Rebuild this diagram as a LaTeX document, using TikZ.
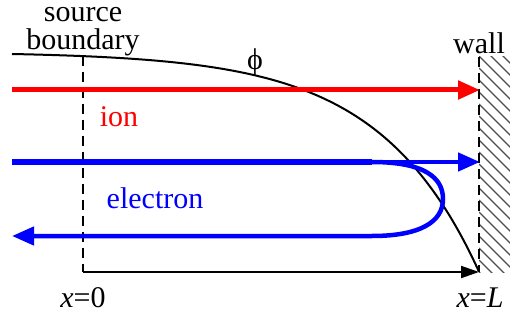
\documentclass[tikz,border=0pt]{standalone}
\usepackage{fontspec}
\setmainfont{LiberationSerif}[Extension=.ttf, UprightFont=*-Regular, ItalicFont=*-Italic, BoldFont=*-Bold]
\usetikzlibrary{arrows.meta}

\tikzset{
  boundary/.style={line width=2pt, dash pattern=on 10pt off 6pt},
  txt/.style={inner sep=0pt, anchor=base},
  ionpath/.style={red, line width=5pt, -{Triangle[length=22pt, width=18pt]}},
  elpath/.style={blue, line width=4.5pt},
  eltip/.style={-{Triangle[length=22pt, width=18pt]}},
}

\begin{document}
\begin{tikzpicture}[x=1pt, y=-1pt, every node/.style={font=\rmfamily\fontsize{30}{28}\selectfont}]
    \useasboundingbox (0,0) rectangle (510,320);

    % Source boundary and wall positions
    \coordinate (srcTop) at (83,56);
    \coordinate (srcBot) at (83,272);
    \coordinate (wallTop) at (479,57);
    \coordinate (wallBot) at (479,272);

    % Hatched wall
    \begin{scope}
        \clip (wallTop) rectangle (510,272);
        \foreach \i in {-40,-28,...,280}
            \draw[line width=1.3pt, black!70] (479,\i) -- ++(45,45);
    \end{scope}
    \draw[boundary] (wallTop) -- (wallBot);
    \node[txt] (wall) at (479,54) {wall};

    % Source boundary
    \draw[boundary] (srcTop) -- (srcBot);
    \node[inner sep=0pt, anchor=south, align=center] (src) at (83,56) {source\\boundary};

    % Axis from x=0 to x=L
    \draw[line width=2pt, -{Triangle[length=18pt, width=12pt]}] (srcBot) -- (wallBot);
    \node[txt] (x0) at (83,307) {\textit{x}=0};
    \node[txt] (xL) at (480,307) {\textit{x}=\textit{L}};

    % Potential phi
    \draw[line width=2pt] plot[domain=0:467, samples=120] ({12+\x},{54+2.06*(exp(\x/100)-1)});
    \node[txt] (phi) at (255,70) {ϕ};

    % Ion
    \coordinate (ionL) at (12,90);
    \coordinate (ionR) at (480,90);
    \draw[ionpath] (ionL) -- (ionR);
    \node[txt, red] (ion) at (119,127) {ion};

    % Electrons: passing and reflected
    \coordinate (elL) at (12,162);
    \coordinate (elTurn) at (372,162);
    \coordinate (elR) at (480,162);
    \coordinate (elBack) at (372,236);
    \coordinate (elOut) at (12,236);
    \draw[blue, line width=6.5pt] (elL) -- (elTurn);
    \draw[elpath, eltip] (elTurn) -- (elR);
    \draw[elpath, eltip] (elTurn) .. controls (425,162) and (443,178) .. (443,199)
        .. controls (443,222) and (420,236) .. (elBack) -- (elOut);
    \node[txt, blue] (electron) at (155,208) {electron};
\end{tikzpicture}
\end{document}
